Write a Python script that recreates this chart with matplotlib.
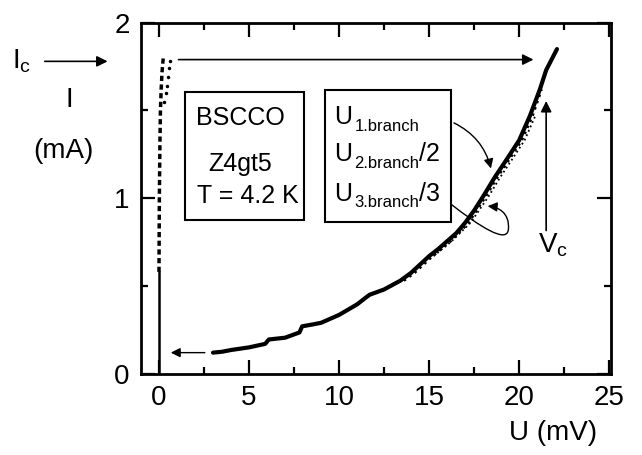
import numpy as np
import matplotlib.pyplot as plt
from matplotlib.patches import Rectangle, FancyArrowPatch
from matplotlib.path import Path
from matplotlib.ticker import MultipleLocator

plt.rcParams['font.family'] = ['Liberation Sans', 'DejaVu Sans']
plt.rcParams['mathtext.default'] = 'regular'

# resistive branch (1st branch), U in mV, I in mA
U_main = [3.0, 3.5, 4.0, 5.0, 5.9, 6.1, 7.0, 7.8, 7.95, 8.5, 9.0, 10.0, 11.0,
          11.5, 11.7, 12.5, 13.4, 14.0, 15.0, 15.5, 16.0, 16.5, 17.0, 17.5,
          18.0, 18.65, 19.3, 20.0, 20.6, 21.15, 21.5, 22.1]
I_main = [0.12, 0.125, 0.135, 0.15, 0.17, 0.195, 0.205, 0.235, 0.27, 0.28,
          0.29, 0.335, 0.395, 0.435, 0.45, 0.48, 0.53, 0.575, 0.67, 0.71,
          0.755, 0.8, 0.86, 0.93, 1.01, 1.12, 1.22, 1.33, 1.47, 1.62, 1.73,
          1.85]
# scaled 2nd / 3rd branches (lie just right of the 1st branch)
U_br2 = [13.6, 14.2, 15.2, 16.2, 17.2, 18.15, 18.8, 19.45, 20.15, 20.75, 21.25]
I_br2 = [0.53, 0.575, 0.67, 0.755, 0.86, 1.01, 1.12, 1.22, 1.33, 1.47, 1.62]
U_br3 = [15.25, 16.25, 17.3, 18.3, 18.95, 19.6, 20.3, 20.9]
I_br3 = [0.67, 0.755, 0.86, 1.01, 1.12, 1.22, 1.33, 1.47]
# supercurrent branch
U_sc = [0.0, 0.0, 0.02, 0.05, 0.08, 0.12, 0.17, 0.22, 0.25]
I_sc = [0.0, 0.58, 1.0, 1.3, 1.5, 1.62, 1.72, 1.78, 1.81]
U_sc_pts = [0.3, 0.38, 0.45, 0.5, 0.55, 0.6]
I_sc_pts = [1.55, 1.6, 1.64, 1.69, 1.74, 1.78]

fig = plt.figure(figsize=(6.42, 4.55), dpi=100)
ax = fig.add_axes([0.2196, 0.1787, 0.7321, 0.7713])

ax.plot(U_main, I_main, color='black', lw=3.0, solid_capstyle='round')
ax.plot(U_br2, I_br2, color='black', ls=':', lw=1.8)
ax.plot(U_br3, I_br3, color='black', ls=':', lw=1.3)
ax.plot(U_sc[:2], I_sc[:2], color='black', lw=1.8)
ax.plot(U_sc[1:], I_sc[1:], color='black', lw=2.5, ls=(0, (1.5, 1)))
ax.plot(U_sc_pts, I_sc_pts, 'k.', ms=3)

ax.set_xlim(-1, 25.1)
ax.set_ylim(0, 2)
ax.xaxis.set_major_locator(MultipleLocator(5))
ax.xaxis.set_minor_locator(MultipleLocator(2.5))
ax.yaxis.set_major_locator(MultipleLocator(1))
ax.yaxis.set_minor_locator(MultipleLocator(0.5))
ax.tick_params(which='both', direction='in', top=True, right=True,
               labelsize=20, width=1.6)
ax.tick_params(which='major', length=10, pad=8)
ax.tick_params(which='minor', length=5)
for s in ax.spines.values():
    s.set_linewidth(2)

# text boxes
ax.add_patch(Rectangle((1.47, 0.878), 6.57, 0.73, fill=False, lw=1.5))
ax.add_patch(Rectangle((9.2, 0.863), 7.04, 0.754, fill=False, lw=1.5))
ax.text(4.53, 1.42, 'BSCCO', fontsize=18, ha='center', va='baseline')
ax.text(4.53, 1.154, 'Z4gt5', fontsize=18, ha='center', va='baseline')
ax.text(4.93, 0.97, 'T = 4.2 K', fontsize=18, ha='center', va='baseline')

rows = [(1.421, 1.383, '1.branch', ''),
        (1.211, 1.174, '2.branch', '/2'),
        (0.983, 0.951, '3.branch', '/3')]
for yb, ys, sub, tail in rows:
    ax.text(9.7, yb, 'U', fontsize=18, va='baseline')
    ax.text(10.85, ys, sub, fontsize=12, va='baseline')
    if tail:
        ax.text(14.45, yb, tail, fontsize=18, va='baseline')

# arrows
ax.annotate('', xy=(20.95, 1.79), xytext=(0.93, 1.79),
            arrowprops=dict(arrowstyle='-|>', color='black', lw=1.2,
                            mutation_scale=16))
ax.annotate('', xy=(0.5, 0.12), xytext=(2.7, 0.12),
            arrowprops=dict(arrowstyle='-|>', color='black', lw=1.0,
                            mutation_scale=14))
ax.annotate('', xy=(21.5, 1.57), xytext=(21.5, 0.8),
            arrowprops=dict(arrowstyle='-|>', color='black', lw=1.2,
                            mutation_scale=16))
ax.annotate('', xy=(18.47, 1.154), xytext=(16.24, 1.436),
            arrowprops=dict(arrowstyle='-|>', color='black', lw=1.0,
                            mutation_scale=14,
                            connectionstyle='arc3,rad=-0.25'))
loop = Path([(16.24, 0.964), (17.8, 0.84), (19.3, 0.74),
             (19.4, 0.82), (19.5, 0.92), (18.8, 0.95), (18.25, 0.955)],
            [Path.MOVETO, Path.CURVE4, Path.CURVE4, Path.CURVE4,
             Path.CURVE4, Path.CURVE4, Path.CURVE4])
ax.add_patch(FancyArrowPatch(path=loop, arrowstyle='-|>', color='black',
                             lw=1.0, mutation_scale=14))
ax.annotate('', xy=(-2.7, 1.78), xytext=(-6.5, 1.78),
            annotation_clip=False,
            arrowprops=dict(arrowstyle='-|>', color='black', lw=1.2,
                            mutation_scale=16))

ax.text(-7.6, 1.78, r'$I_c$', fontsize=20, ha='center', va='center',
        clip_on=False)
ax.text(-5.0, 1.56, 'I', fontsize=20, ha='center', va='center', clip_on=False)
ax.text(-5.3, 1.27, '(mA)', fontsize=20, ha='center', va='center',
        clip_on=False)
ax.text(21.9, 0.73, r'$V_c$', fontsize=20, ha='center', va='center')
ax.text(21.9, -0.34, 'U (mV)', fontsize=20, ha='center', va='center',
        clip_on=False)

fig.savefig('out.png', dpi=100)
